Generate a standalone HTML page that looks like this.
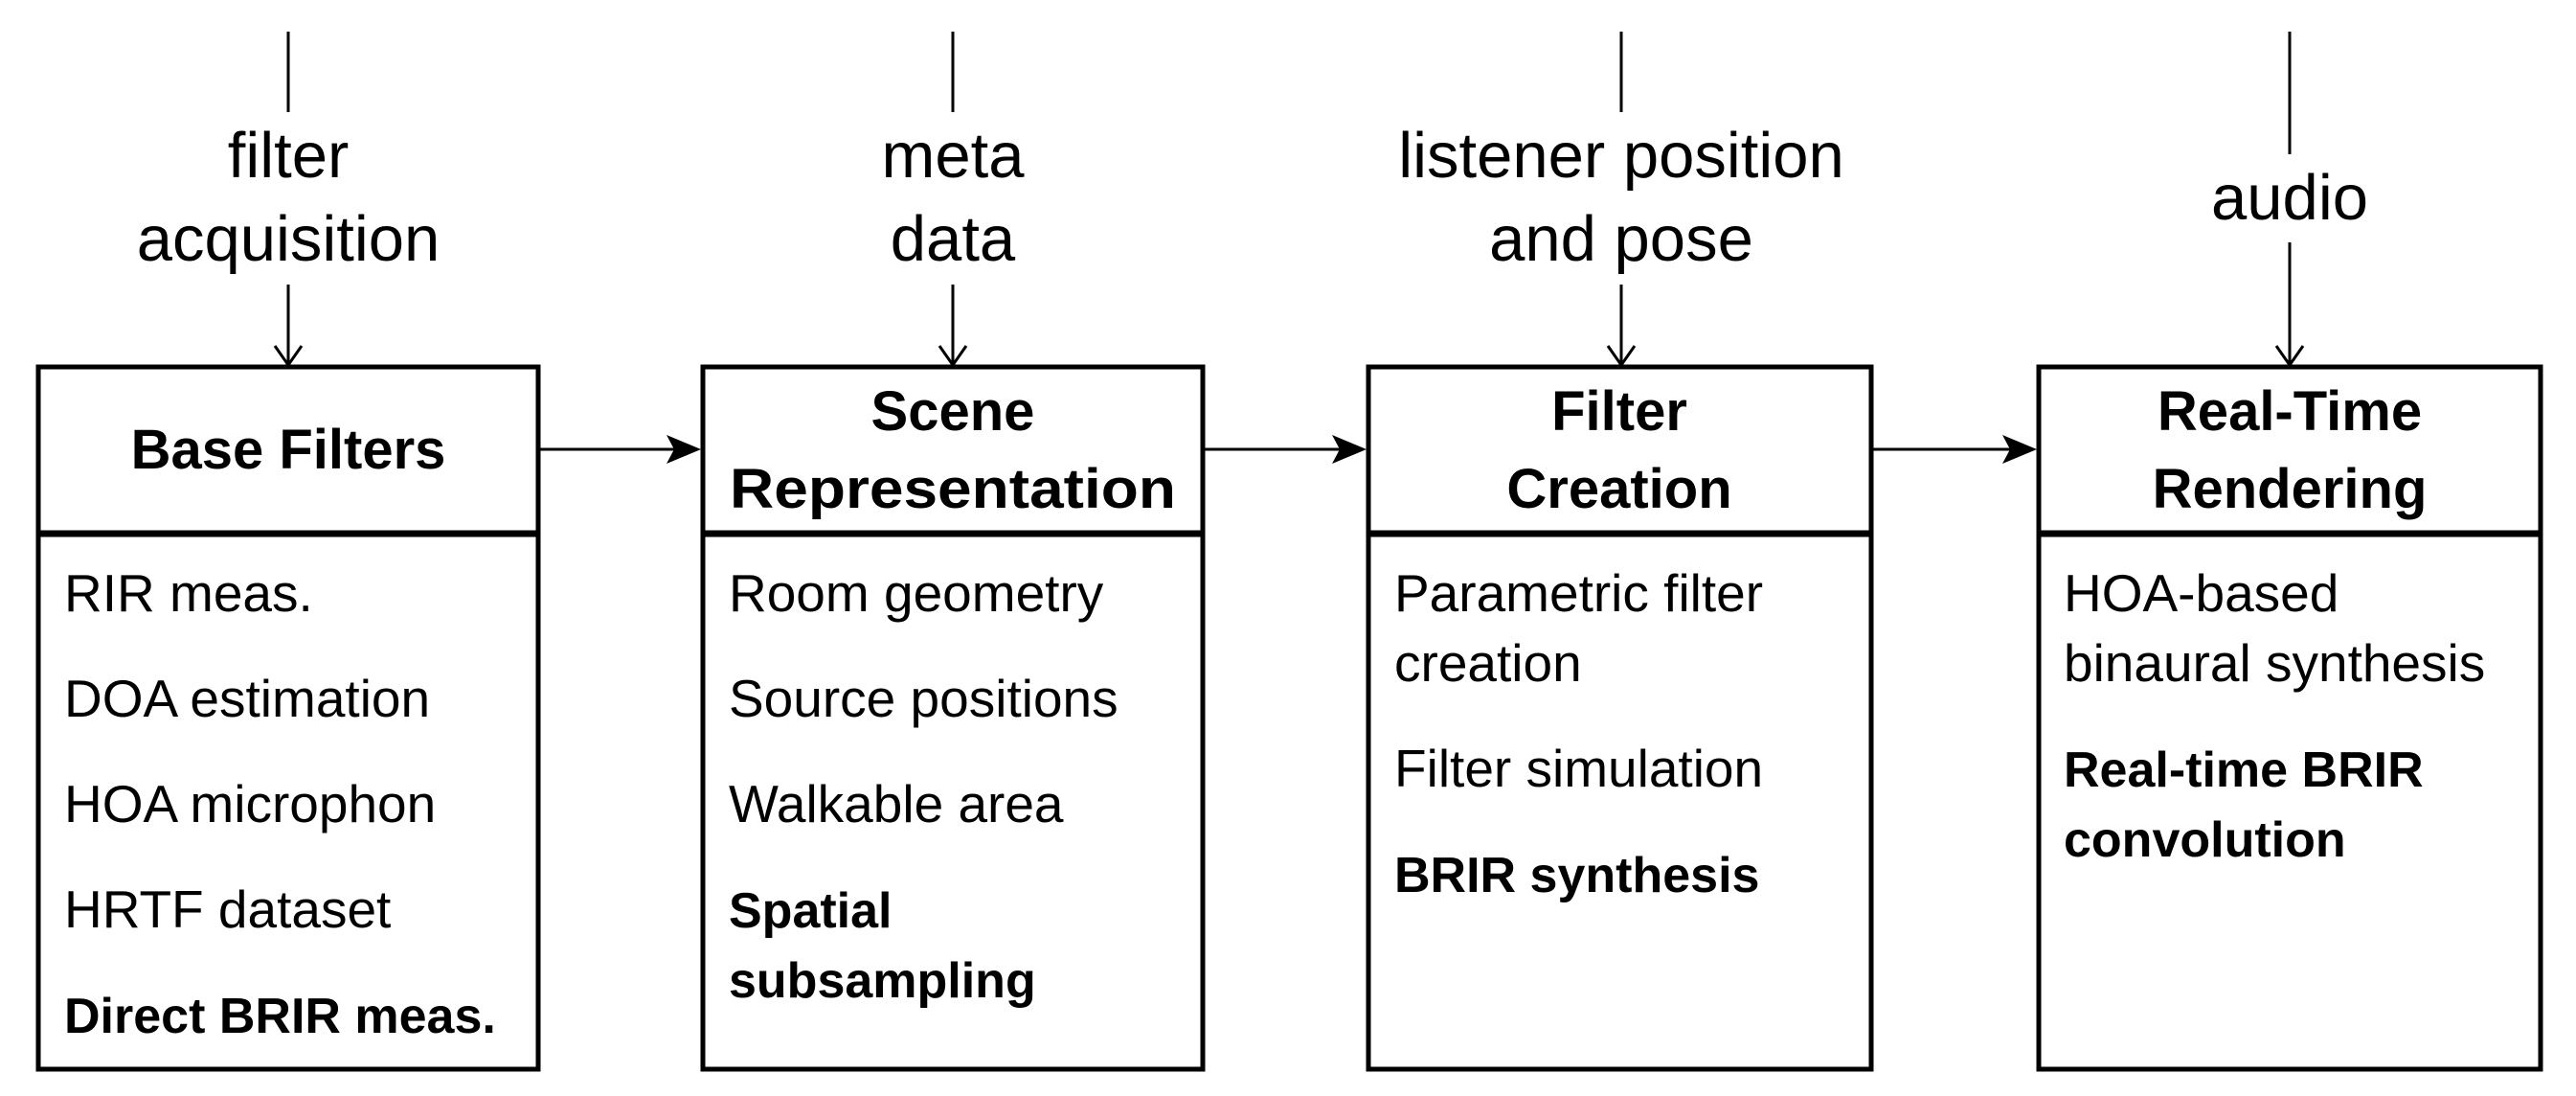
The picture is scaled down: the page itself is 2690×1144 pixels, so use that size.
<!DOCTYPE html>
<html><head><meta charset="utf-8"><style>
html,body{margin:0;padding:0;background:#fff;}
svg{display:block;}
text{font-family:"Liberation Sans",sans-serif;fill:#000;}
.l{font-size:67px;}
.t{font-size:58px;font-weight:bold;}
.b{font-size:55px;}
.bb{font-size:52px;font-weight:bold;}
</style></head><body>
<svg width="2690" height="1144" viewBox="0 0 2690 1144" xmlns="http://www.w3.org/2000/svg">
<g fill="none" stroke="#000" stroke-width="5">
<rect x="40" y="383" width="522" height="733"/>
<rect x="734" y="383" width="522" height="733"/>
<rect x="1429" y="383" width="525" height="733"/>
<rect x="2129" y="383" width="524" height="733"/>
</g>
<g stroke="#000" stroke-width="7">
<line x1="40" y1="557" x2="562" y2="557"/>
<line x1="734" y1="557" x2="1256" y2="557"/>
<line x1="1429" y1="557" x2="1954" y2="557"/>
<line x1="2129" y1="557" x2="2653" y2="557"/>
</g>
<g stroke="#000" stroke-width="3" fill="none">
<line x1="301" y1="33" x2="301" y2="117"/><line x1="301" y1="297" x2="301" y2="381"/>
<polyline points="287,361 301,381 315,361"/>
<line x1="995" y1="33" x2="995" y2="117"/><line x1="995" y1="297" x2="995" y2="381"/>
<polyline points="981,361 995,381 1009,361"/>
<line x1="1693" y1="33" x2="1693" y2="117"/><line x1="1693" y1="297" x2="1693" y2="381"/>
<polyline points="1679,361 1693,381 1707,361"/>
<line x1="2391" y1="33" x2="2391" y2="161"/><line x1="2391" y1="253" x2="2391" y2="381"/>
<polyline points="2377,361 2391,381 2405,361"/>
<line x1="564" y1="469" x2="710" y2="469"/>
<line x1="1258" y1="469" x2="1405" y2="469"/>
<line x1="1956" y1="469" x2="2105" y2="469"/>
</g>
<g fill="#000">
<polygon points="732,469 696,454 704,469 696,484"/>
<polygon points="1427,469 1391,454 1399,469 1391,484"/>
<polygon points="2127,469 2091,454 2099,469 2091,484"/>
</g>
<g class="l" text-anchor="middle">
<text x="301" y="185">filter</text><text x="301" y="272">acquisition</text>
<text x="995" y="185">meta</text><text x="995" y="272">data</text>
<text x="1693" y="185">listener position</text><text x="1693" y="272">and pose</text>
<text x="2391" y="229">audio</text>
</g>
<g class="t" text-anchor="middle">
<text x="301" y="489">Base Filters</text>
<text x="995" y="449">Scene</text><text x="995" y="530" textLength="466" lengthAdjust="spacingAndGlyphs">Representation</text>
<text x="1691" y="449">Filter</text><text x="1691" y="530">Creation</text>
<text x="2391" y="449">Real-Time</text><text x="2391" y="530">Rendering</text>
</g>
<g class="b">
<text x="67" y="638">RIR meas.</text>
<text x="67" y="748">DOA estimation</text>
<text x="67" y="858">HOA microphon</text>
<text x="67" y="968">HRTF dataset</text>
<text x="761" y="638">Room geometry</text>
<text x="761" y="748">Source positions</text>
<text x="761" y="858">Walkable area</text>
<text x="1456" y="638">Parametric filter</text>
<text x="1456" y="711">creation</text>
<text x="1456" y="821">Filter simulation</text>
<text x="2155" y="638">HOA-based</text>
<text x="2155" y="711">binaural synthesis</text>
</g>
<g class="bb">
<text x="67" y="1078">Direct BRIR meas.</text>
<text x="761" y="968">Spatial</text>
<text x="761" y="1041">subsampling</text>
<text x="1456" y="931">BRIR synthesis</text>
<text x="2155" y="821">Real-time BRIR</text>
<text x="2155" y="894">convolution</text>
</g>
</svg>
</body></html>
